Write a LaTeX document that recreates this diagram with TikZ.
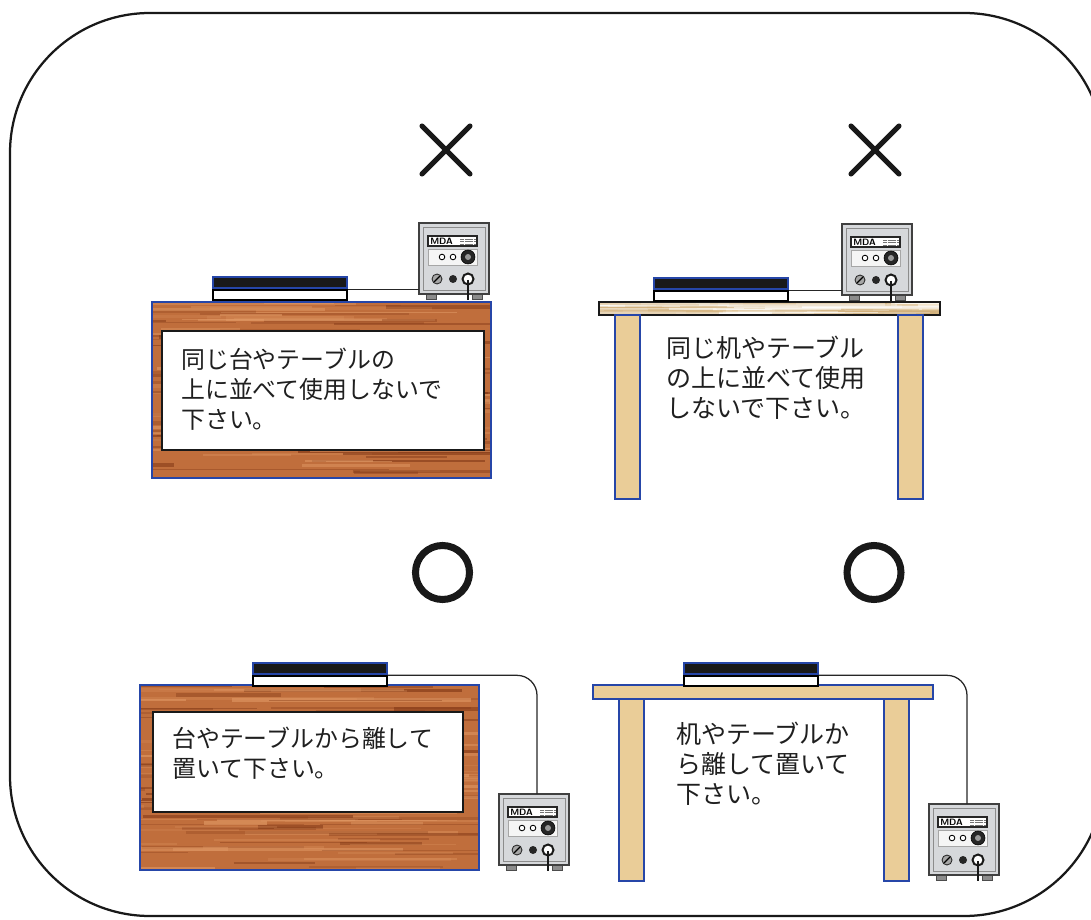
\documentclass[tikz,border=0pt]{standalone}
\usepackage{fontspec}
\newfontfamily\jp{Noto Sans CJK JP}

\definecolor{woodbrown}{RGB}{192,110,60}
\definecolor{woodstreak}{RGB}{130,56,22}
\definecolor{woodlight}{RGB}{224,152,100}
\definecolor{pinetan}{RGB}{234,205,152}
\definecolor{pinestreak}{RGB}{210,176,122}
\definecolor{edgeblue}{RGB}{38,70,168}
\definecolor{panelgray}{RGB}{214,216,219}

\tikzset{
  edge/.style={draw=edgeblue, line width=2pt},
  textbox/.style={draw=black!90, line width=1pt, fill=white},
  note/.style={font=\jp\fontsize{#1}{21.5}\selectfont, align=left, anchor=west,
    text=black!88, inner sep=0pt},
  note/.default=17,
  cable/.style={draw=black!85, line width=0.9pt, rounded corners=5mm},
  padtop/.style={draw=edgeblue, line width=1.4pt, fill=black!90, inner sep=0pt,
    minimum width=33.5mm, minimum height=2.8mm},
  padbase/.style={draw=black, line width=1.2pt, fill=white, inner sep=0pt,
    minimum width=33.5mm, minimum height=2.5mm},
  nogo/.style={line width=3.6pt, line cap=round, black!90},
  okmark/.style={line width=5pt, black!90},
  % the MDA control box, origin at the top left of its case
  mda/.pic={
    \filldraw[fill=black!45, draw=black!70, line width=0.4pt]
      (7,70) rectangle (17,76) (53,70) rectangle (63,76);
    \filldraw[fill=panelgray, draw=black!75, line width=0.9pt] (0,0) rectangle (70,71);
    \draw[black!45, line width=0.5pt] (4,4) rectangle (66,67);
    % name plate
    \filldraw[fill=white, draw=black!85, line width=0.8pt] (9,13) rectangle (58,23);
    \node[font=\sffamily\bfseries\fontsize{6.5}{6.5}\selectfont, inner sep=0pt, anchor=west] at (11,18) {MDA};
    \foreach \yy in {16,18.5,21}
      \draw[black!55, line width=0.3pt, dash pattern=on 0.4pt off 0.4pt] (41,\yy) -- (56,\yy);
    % knobs
    \filldraw[fill=gray!8, draw=black!35, line width=0.4pt] (9,26) rectangle (58,42);
    \draw[fill=white, line width=0.6pt] (23,34) circle (2.8) (34,34) circle (2.8);
    \filldraw[fill=black!85, draw=black] (49,34) circle (7);
    \fill[black!40] (49,34) circle (3);
    \filldraw[fill=black!35, draw=black!85, line width=0.6pt] (18,56) circle (5);
    \draw[black, line width=0.8pt] (15,59) -- (21,53);
    \fill[black!85] (34,56) circle (4);
    \filldraw[fill=white, draw=black!90, line width=1.4pt] (49,56) circle (5.5);
    \draw[black!90, line width=0.9pt] (49,57) -- (49,77);
    \coordinate (-jack) at (49,56);
    \coordinate (-inlet) at (38,0);
    \coordinate (-side) at (0,68);
  }
}

% horizontal grain on a wooden block
\newcommand\woodgrain[6]{%
  \begin{scope}
    \clip (#1,#2) rectangle (#3,#4);
    \pgfmathsetseed{#1}
    \foreach \k in {1,...,130}{
      \pgfmathsetmacro\gy{#2+(#4-#2)*rnd}
      \pgfmathsetmacro\gx{#1-80+(#3-#1)*rnd}
      \pgfmathsetmacro\gl{60+200*rnd}
      \pgfmathsetmacro\gw{0.5+2.2*rnd}
      \pgfmathsetmacro\go{0.2+0.45*rnd}
      \ifodd\k\def\gc{#5}\else\def\gc{#6}\fi
      \draw[\gc, line width=\gw pt, opacity=\go] (\gx,\gy) -- ++(\gl,0);
    }
  \end{scope}}

\begin{document}
\begin{tikzpicture}[x=0.25mm, y=-0.25mm]
\useasboundingbox (0,0) rectangle (1091,920);
\clip (0,0) rectangle (1091,920);

% frame, running off the right side
\draw[black!90, line width=1.6pt, rounded corners=35mm] (10,13) rectangle (1104,916);

% marks
\draw[nogo] (422,126) -- (470,174) (422,174) -- (470,126);
\draw[nogo] (851,126) -- (899,174) (851,174) -- (899,126);
\draw[okmark] (442.5,572.5) circle (27);
\draw[okmark] (874,572.5) circle (27);

%%%% top left: on the same block
\fill[woodbrown] (152,302) rectangle (491,478);
\woodgrain{152}{302}{491}{478}{woodstreak}{woodlight}
\draw[textbox] (162,331) rectangle (484,450);
\draw[edge] (152,302) rectangle (491,478);
\node[note] (noteA) at (181,389) {同じ台やテーブルの\\上に並べて使用しないで\\下さい。};

\node[padbase, anchor=south west] (padA) at (212,301) {};
\node[padtop, anchor=south] at (padA.north) {};
\pic (devA) at (419,223) {mda};
\draw[cable] (padA.north east) -- (padA.north east -| devA-side);

%%%% top right: on the same table
\fill[pinetan] (599,302) rectangle (940,315);
\woodgrain{599}{302}{940}{315}{pinestreak}{white}
\draw[black!90, line width=1.5pt] (599,302) rectangle (940,315);
\foreach \lx in {615,898}{
  \fill[pinetan] (\lx,315) rectangle (\lx+25,499);
  \draw[edge] (\lx,315) rectangle (\lx+25,499);
}
\node[note=17.8] (noteB) at (666,378) {同じ机やテーブル\\の上に並べて使用\\しないで下さい。};

\node[padbase, anchor=south west] (padB) at (653,302) {};
\node[padtop, anchor=south] at (padB.north) {};
\pic (devB) at (842,224) {mda};
\draw[cable] (padB.north east) -- (padB.north east -| devB-side);

%%%% bottom left: box kept off the block
\fill[woodbrown] (140,685) rectangle (479,870);
\woodgrain{140}{685}{479}{870}{woodstreak}{woodlight}
\draw[textbox] (153,712) rectangle (463,812);
\draw[edge] (140,685) rectangle (479,870);
\node[note] (noteC) at (172,753.5) {台やテーブルから離して\\置いて下さい。};

\node[padbase, anchor=south west] (padC) at (252,687) {};
\node[padtop, anchor=south] at (padC.north) {};
\pic (devC) at (499,794) {mda};
\draw[cable] (padC.north east) -- (padC.north east -| devC-inlet) -- (devC-inlet);

%%%% bottom right: box kept off the table
\fill[pinetan] (593,685) rectangle (933,699);
\draw[edge] (593,685) rectangle (933,699);
\foreach \lx in {619,884}{
  \fill[pinetan] (\lx,699) rectangle (\lx+25,881);
  \draw[edge] (\lx,699) rectangle (\lx+25,881);
}
\node[note=17.8] (noteD) at (676,764) {机やテーブルか\\ら離して置いて\\下さい。};

\node[padbase, anchor=south west] (padD) at (683,687) {};
\node[padtop, anchor=south] at (padD.north) {};
\pic (devD) at (929,804) {mda};
\draw[cable] (padD.north east) -- (padD.north east -| devD-inlet) -- (devD-inlet);

\end{tikzpicture}
\end{document}
